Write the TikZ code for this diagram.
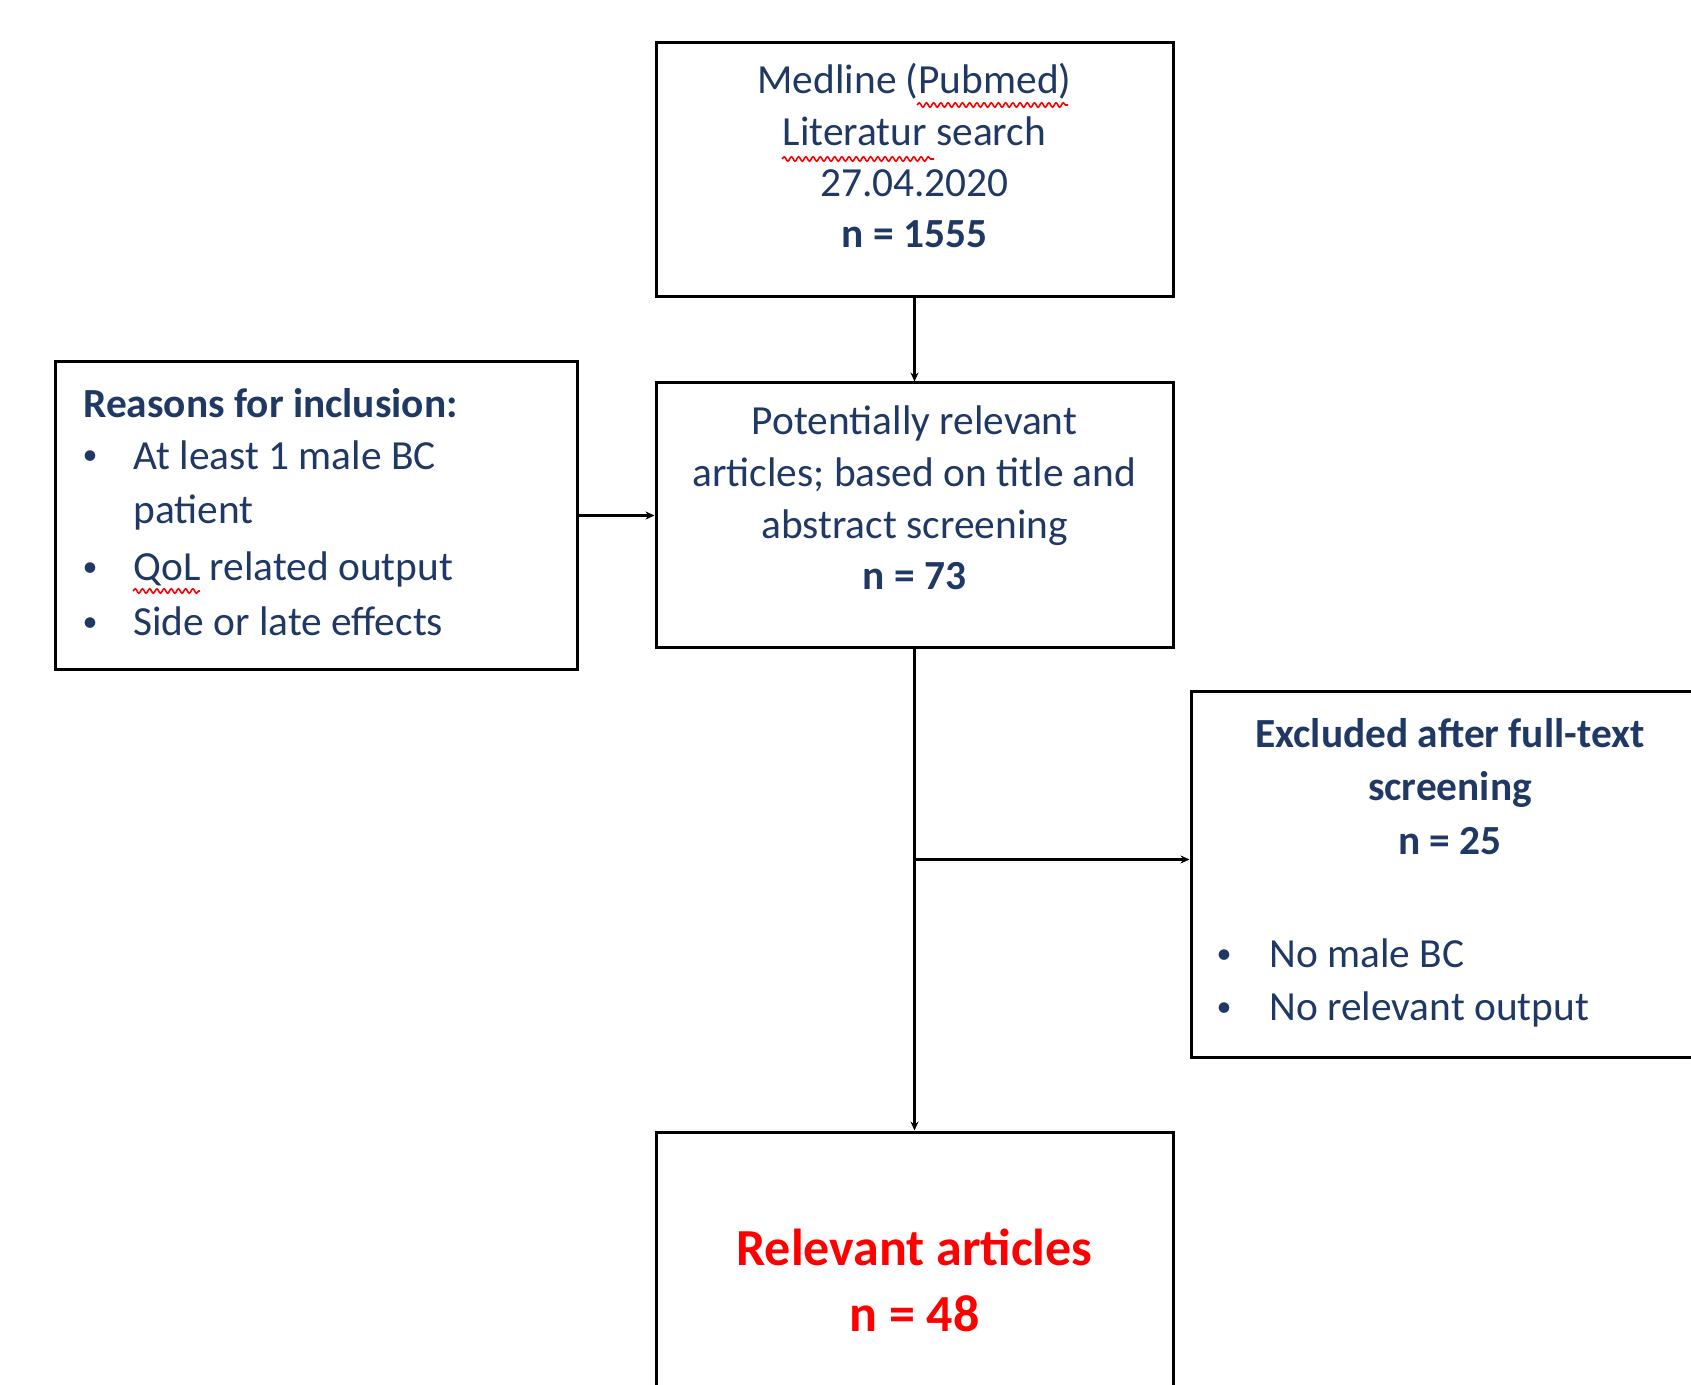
\documentclass[tikz,border=0pt]{standalone}
\usepackage{fontspec}
\setmainfont{Carlito}
\usetikzlibrary{arrows.meta,decorations.pathmorphing}
\definecolor{navy}{HTML}{1F3864}
\definecolor{hotred}{HTML}{FF0000}
\begin{document}
\begin{tikzpicture}[x=0.5pt,y=-0.5pt,
  box/.style={draw=black, line width=1.5pt, rectangle, inner sep=0pt},
  txt/.style={text=navy, font=\fontsize{20.7}{25}\selectfont, anchor=base, inner sep=0pt},
  txtb/.style={text=navy, font=\fontsize{20.7}{25}\selectfont\bfseries, anchor=base, inner sep=0pt},
  txtl/.style={txt, anchor=base west},
  bul/.style={text=navy, font=\fontsize{15}{18}\selectfont, anchor=base, inner sep=0pt},
  redb/.style={text=hotred, font=\fontsize{26}{32}\selectfont\bfseries, anchor=base, inner sep=0pt},
  conn/.style={draw=black, line width=1.4pt, -{Stealth[length=4.5pt,width=4pt]}},
  spell/.style={draw=red, line width=0.8pt, decorate, decoration={snake, amplitude=1.1pt, segment length=3.6pt}}
]
\useasboundingbox (0,0) rectangle (1691,1385);
\clip (0,0) rectangle (1691,1385);

% boxes
\node[box, minimum width=258.5pt, minimum height=127pt] (top) at (914.5,170) {};
\node[box, minimum width=258.5pt, minimum height=132pt] (mid) at (914.5,515) {};
\node[box, minimum width=261pt, minimum height=153.5pt] (left) at (316,515.5) {};
\node[box, minimum width=259pt, minimum height=183pt] (right) at (1450,874) {};
\node[box, minimum width=258.5pt, minimum height=148pt] (bot) at (914.5,1280) {};

% top text
\node[txt] (t1) at (914.5,94) {Medline (Pubmed)};
\node[txt] (t2) at (914.5,146) {Literatur search};
\node[txt] (t3) at (914.5,197) {27.04.2020};
\node[txtb] (t4) at (914.5,248) {n = 1555};

% middle text
\node[txt] (m1) at (914.5,434) {Potentially relevant};
\node[txt] (m2) at (914.5,486) {articles; based on title and};
\node[txt] (m3) at (914.5,538) {abstract screening};
\node[txtb] (m4) at (914.5,589) {n = 73};

% left text
\node[txtb, anchor=base west] (l0) at (83,417) {Reasons for inclusion:};
\node[bul] (lb1) at (90,465) {•};
\node[txtl] (l1) at (133,469) {At least 1 male BC};
\node[txtl] (l2) at (133,523) {patient};
\node[bul] (lb3) at (90,576) {•};
\node[txtl] (l3) at (133,580) {QoL related output};
\node[bul] (lb4) at (90,631) {•};
\node[txtl] (l4) at (133,635) {Side or late effects};

% right text
\node[txtb] (r1) at (1450,747) {Excluded after full-text};
\node[txtb] (r2) at (1450,800) {screening};
\node[txtb] (r3) at (1450,854) {n = 25};
\node[bul] (rb1) at (1224,963) {•};
\node[txtl] (r4) at (1269,967) {No male BC};
\node[bul] (rb2) at (1224,1016) {•};
\node[txtl] (r5) at (1269,1020) {No relevant output};

% bottom text
\node[redb] (b1) at (914.5,1265) {Relevant articles};
\node[redb] (b2) at (914.5,1331) {n = 48};

% spell-check marks
\draw[spell] (917,105) -- (1068,105);
\draw[spell] (782,159) -- (934,159);
\draw[spell] (133,591) -- (200,591);

% connectors
\coordinate (br) at (914.5,859.5);
\draw[conn] (top.south) -- (mid.north);
\draw[conn] (left.east) -- (left.east -| mid.west);
\draw[conn] (mid.south) -- (bot.north);
\draw[conn] (br) -- (br -| right.west);
\end{tikzpicture}
\end{document}
